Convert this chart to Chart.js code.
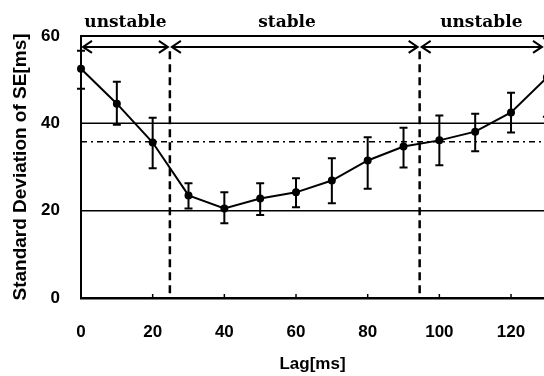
<!DOCTYPE html>
<html>
<head>
<meta charset="utf-8">
<script src="https://cdn.jsdelivr.net/npm/chart.js@4.4.0/dist/chart.umd.min.js"></script>
<style>
html, body { margin: 0; padding: 0; background: #fff; overflow: hidden; }
canvas { display: block; }
</style>
</head>
<body>
<canvas id="myChart" width="544" height="376"></canvas>
<script>
// values
var lags = [0, 10, 20, 30, 40, 50, 60, 70, 80, 90, 100, 110, 120, 130];
var sdValues = [52.5, 44.5, 35.6, 23.5, 20.5, 22.8, 24.2, 26.9, 31.5, 34.7, 36.1, 38.1, 42.5, 50.5];
var sdUpper = [56.6, 49.5, 41.3, 26.3, 24.2, 26.3, 27.4, 32.0, 36.8, 39.0, 41.8, 42.2, 47.0, 59.5];
var sdLower = [47.9, 39.7, 29.7, 20.5, 17.1, 19.0, 20.8, 21.7, 25.0, 29.9, 30.4, 33.6, 37.9, 41.5];

var solidLevels = [40, 20];
var dashDotLevel = 35.8;
var boundaries = [24.8, 94.5];
var arrowLevel = 57.5;
var regionLabels = ['unstable', 'stable', 'unstable'];
var regionLabelX = [12.4, 57.5, 111.7];

var xTicks = [0, 20, 40, 60, 80, 100, 120];
var yTicks = [0, 20, 40, 60];
var xMax = 129.2;

Chart.defaults.font.family = "'Liberation Sans', Arial, sans-serif";
Chart.defaults.color = '#000';

var datasets = [];
datasets.push({
    data: lags.map(function(l, i) { return {x: l, y: sdValues[i]}; }),
    borderColor: '#000',
    backgroundColor: '#000',
    borderWidth: 2,
    pointRadius: 3,
    pointBackgroundColor: '#000',
    tension: 0,
    clip: false
});
solidLevels.forEach(function(v) {
    datasets.push({
        data: [{x: 0, y: v}, {x: xMax, y: v}],
        borderColor: '#000',
        borderWidth: 1.5,
        pointRadius: 0
    });
});
datasets.push({
    data: [{x: 0, y: dashDotLevel}, {x: xMax, y: dashDotLevel}],
    borderColor: '#000',
    borderWidth: 1.5,
    borderDash: [6, 4, 2, 4],
    pointRadius: 0
});
boundaries.forEach(function(b) {
    datasets.push({
        data: [{x: b, y: arrowLevel - 1}, {x: b, y: 0}],
        borderColor: '#000',
        borderWidth: 2.5,
        borderDash: [8, 5],
        pointRadius: 0
    });
});

var extras = {
    id: 'extras',
    afterDatasetsDraw: function(chart) {
        var ctx = chart.ctx;
        var xs = chart.scales.x, ys = chart.scales.y;
        var area = chart.chartArea;
        ctx.save();
        ctx.strokeStyle = '#000';
        ctx.fillStyle = '#000';

        // error bars
        ctx.lineWidth = 2;
        lags.forEach(function(l, i) {
            var px = xs.getPixelForValue(l);
            var top = ys.getPixelForValue(sdUpper[i]);
            var bot = ys.getPixelForValue(sdLower[i]);
            ctx.beginPath();
            ctx.moveTo(px, top); ctx.lineTo(px, bot);
            ctx.moveTo(px - 4, top); ctx.lineTo(px + 4, top);
            ctx.moveTo(px - 4, bot); ctx.lineTo(px + 4, bot);
            ctx.stroke();
        });

        // top frame
        ctx.lineWidth = 2;
        ctx.beginPath();
        ctx.moveTo(area.left, area.top);
        ctx.lineTo(area.right, area.top);
        ctx.stroke();

        // inner ticks on x axis
        ctx.lineWidth = 1.5;
        xTicks.forEach(function(t) {
            if (t === 0) return;
            var px = xs.getPixelForValue(t);
            ctx.beginPath();
            ctx.moveTo(px, area.bottom);
            ctx.lineTo(px, area.bottom - 4);
            ctx.stroke();
        });

        // region arrows
        var edges = [0].concat(boundaries).concat([xMax]);
        var py = ys.getPixelForValue(arrowLevel);
        ctx.lineWidth = 2;
        for (var i = 0; i < edges.length - 1; i++) {
            var a = xs.getPixelForValue(edges[i]) + 2;
            var b = xs.getPixelForValue(edges[i + 1]) - 2;
            ctx.beginPath();
            ctx.moveTo(a, py); ctx.lineTo(b, py);
            ctx.moveTo(a + 9, py - 6); ctx.lineTo(a, py); ctx.lineTo(a + 9, py + 6);
            ctx.moveTo(b - 9, py - 6); ctx.lineTo(b, py); ctx.lineTo(b - 9, py + 6);
            ctx.stroke();
        }

        // region labels
        ctx.font = "bold 17px 'DejaVu Serif', serif";
        ctx.textAlign = 'center';
        ctx.textBaseline = 'alphabetic';
        regionLabels.forEach(function(txt, i) {
            ctx.fillText(txt, xs.getPixelForValue(regionLabelX[i]), 27);
        });
        ctx.restore();
    }
};

var ctx = document.getElementById('myChart').getContext('2d');
var myChart = new Chart(ctx, {
    type: 'line',
    data: { datasets: datasets },
    options: {
        responsive: false,
        animation: false,
        devicePixelRatio: 1,
        layout: { autoPadding: false, padding: { top: 36, right: 0, left: 0, bottom: 0 } },
        plugins: { legend: { display: false }, tooltip: { enabled: false } },
        scales: {
            x: {
                type: 'linear',
                min: 0,
                max: xMax,
                afterBuildTicks: function(s) { s.ticks = xTicks.map(function(v) { return {value: v}; }); },
                afterFit: function(s) { s.height = 78; s.paddingLeft = 0; s.paddingRight = 0; },
                grid: { display: false, drawTicks: false },
                border: { color: '#000', width: 2.5 },
                ticks: { padding: 24, font: { size: 17, weight: 'bold' }, maxRotation: 0 },
                title: { display: true, text: 'Lag[ms]', font: { size: 17, weight: 'bold' }, padding: { top: 0, bottom: 1 } }
            },
            y: {
                min: 0,
                max: 60,
                afterBuildTicks: function(s) { s.ticks = yTicks.map(function(v) { return {value: v}; }); },
                afterFit: function(s) { s.width = 81; s.paddingTop = 0; s.paddingBottom = 0; },
                grid: { display: false, drawTicks: false },
                border: { color: '#000', width: 2 },
                ticks: { padding: 21, font: { size: 17, weight: 'bold' } },
                title: { display: true, text: 'Standard Deviation of SE[ms]', font: { size: 19, weight: 'bold' }, padding: { top: 9, bottom: 0 } }
            }
        }
    },
    plugins: [extras]
});
</script>
</body>
</html>
